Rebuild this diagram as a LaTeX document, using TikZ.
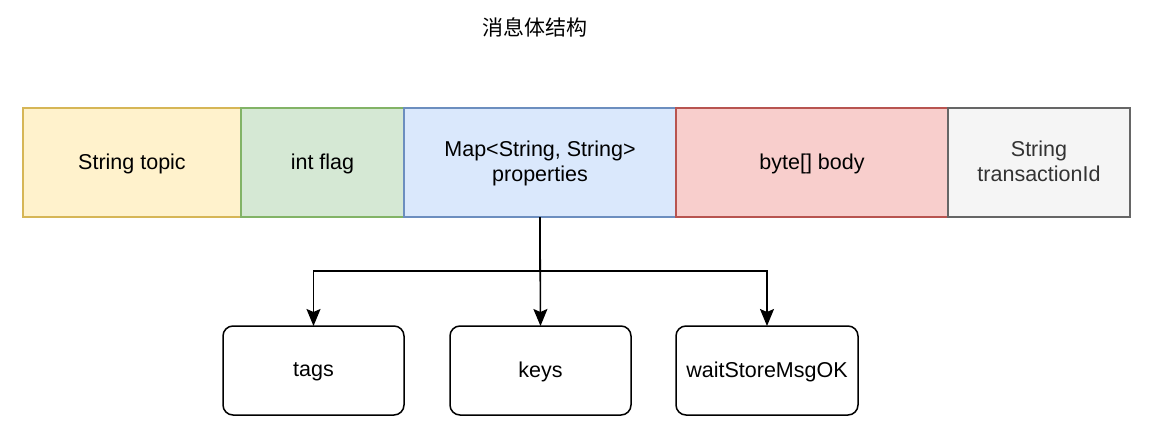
\documentclass[tikz,border=0pt]{standalone}
\usepackage{fontspec}
\setmainfont{Liberation Sans}
\newfontfamily\cjk{Noto Sans CJK SC}
\usetikzlibrary{arrows.meta}

\definecolor{topicfill}{HTML}{FFF2CC}\definecolor{topicline}{HTML}{D6B656}
\definecolor{flagfill}{HTML}{D5E8D4}\definecolor{flagline}{HTML}{82B366}
\definecolor{propfill}{HTML}{DAE8FC}\definecolor{propline}{HTML}{6C8EBF}
\definecolor{bodyfill}{HTML}{F8CECC}\definecolor{bodyline}{HTML}{B85450}
\definecolor{txfill}{HTML}{F5F5F5}\definecolor{txline}{HTML}{666666}
\definecolor{txtext}{HTML}{333333}

\tikzset{
  field/.style={draw, line width=1.5pt, inner sep=0pt, outer sep=0pt,
    minimum height=109pt, align=center, text depth=2pt,
    font=\fontsize{21.5}{25}\selectfont},
  part/.style={draw, line width=1.5pt, rounded corners=10pt, inner sep=0pt,
    outer sep=0pt, minimum width=181pt, minimum height=89pt, text depth=2pt,
    font=\fontsize{21.5}{25}\selectfont},
  link/.style={line width=1.6pt, -{Stealth[length=17pt,width=14pt,inset=3pt]}}
}

\begin{document}
\begin{tikzpicture}[x=1pt,y=-1pt]
    \useasboundingbox (0,0) rectangle (1152,445);

    % Title
    \node (title) at (535,27) {\cjk\fontsize{21}{25}\selectfont 消息体结构};

    % Message fields
    \node[field, fill=topicfill, draw=topicline, minimum width=218pt] (topic) at (132,162.5) {String topic};
    \node[field, fill=flagfill, draw=flagline, minimum width=163pt] (flag) at (322.5,162.5) {int flag};
    \node[field, fill=propfill, draw=propline, minimum width=272pt] (props) at (540,162.5) {Map<String, String>\\properties};
    \node[field, fill=bodyfill, draw=bodyline, minimum width=272pt] (body) at (812,162.5) {byte[] body};
    \node[field, fill=txfill, draw=txline, text=txtext, minimum width=182pt] (txid) at (1039,162.5) {String\\transactionId};

    % Properties entries
    \node[part] (tags) at (313.5,370.5) {tags};
    \node[part] (keys) at (540.5,370.5) {keys};
    \node[part, minimum width=182pt] (wait) at (767,370.5) {waitStoreMsgOK};

    % Connectors
    \coordinate (split) at (540,271);
    \draw[link] (props.south) -- (keys.north);
    \draw[link] (props.south) -- (split) -| (tags.north);
    \draw[link] (split) -| (wait.north);
\end{tikzpicture}
\end{document}
